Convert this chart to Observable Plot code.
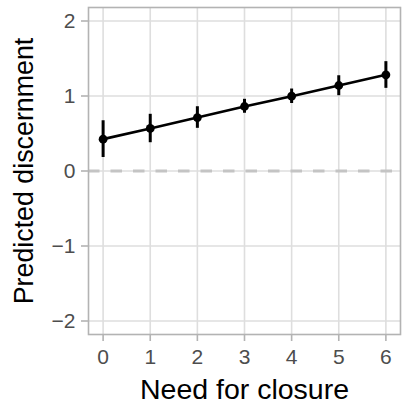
<!DOCTYPE html>
<html>
<head>
<meta charset="utf-8">
<script src="https://cdn.jsdelivr.net/npm/d3@7"></script>
<script src="https://cdn.jsdelivr.net/npm/@observablehq/plot@0.6"></script>
<style>
  html, body { margin: 0; padding: 0; background: #fff; }
  #chart svg { display: block; }
</style>
</head>
<body>
<div id="chart"></div>
<script>
const needForClosure = [0, 1, 2, 3, 4, 5, 6];
const predicted = [0.425, 0.567, 0.713, 0.86, 0.997, 1.14, 1.283];
const lower = [0.18, 0.377, 0.569, 0.77, 0.9, 1.004, 1.102];
const upper = [0.67, 0.756, 0.857, 0.956, 1.093, 1.27, 1.458];
const xTicks = [0, 1, 2, 3, 4, 5, 6];
const yTicks = [-2, -1, 0, 1, 2];
const xTitle = "Need for closure";
const yTitle = "Predicted discernment";

const rows = needForClosure.map((x, i) => ({x, y: predicted[i], lo: lower[i], hi: upper[i]}));

const fmt = d => d < 0 ? "\u2212" + Math.abs(d) : String(d);

const chart = Plot.plot({
  width: 405,
  height: 406,
  marginLeft: 88,
  marginRight: 5,
  marginTop: 7,
  marginBottom: 72,
  style: {fontFamily: "'Liberation Sans', Arial, sans-serif", background: "#fff"},
  x: {domain: [-0.31, 6.31]},
  y: {domain: [-2.18, 2.18]},
  marks: [
    Plot.gridX(xTicks, {stroke: "#dedede", strokeOpacity: 1, strokeWidth: 1.6}),
    Plot.gridY(yTicks, {stroke: "#dedede", strokeOpacity: 1, strokeWidth: 1.6}),
    Plot.ruleY([0], {stroke: "#c4c4c4", strokeWidth: 3, strokeDasharray: "11.5,11"}),
    Plot.frame({stroke: "#b3b3b3", strokeWidth: 1.6}),
    Plot.axisX(xTicks, {tickSize: 7, tickPadding: 8, fontSize: 21, color: "#4d4d4d", stroke: "#b3b3b3", strokeWidth: 1.6, label: null, tickFormat: fmt}),
    Plot.axisY(yTicks, {tickSize: 7, tickPadding: 6, fontSize: 21, color: "#4d4d4d", stroke: "#b3b3b3", strokeWidth: 1.6, label: null, tickFormat: fmt}),
    Plot.ruleX(rows, {x: "x", y1: "lo", y2: "hi", stroke: "black", strokeWidth: 3}),
    Plot.line(rows, {x: "x", y: "y", stroke: "black", strokeWidth: 2.7}),
    Plot.dot(rows, {x: "x", y: "y", r: 4.4, fill: "black", stroke: "none"}),
    Plot.text([xTitle], {frameAnchor: "bottom", textAnchor: "middle", dy: 55, fontSize: 28.5, fill: "black", lineAnchor: "middle"}),
    Plot.text([yTitle], {frameAnchor: "left", textAnchor: "middle", dx: -64, dy: 0, rotate: -90, fontSize: 26.8, fill: "black", lineAnchor: "middle"})
  ]
});
document.getElementById("chart").appendChild(chart);
</script>
</body>
</html>
